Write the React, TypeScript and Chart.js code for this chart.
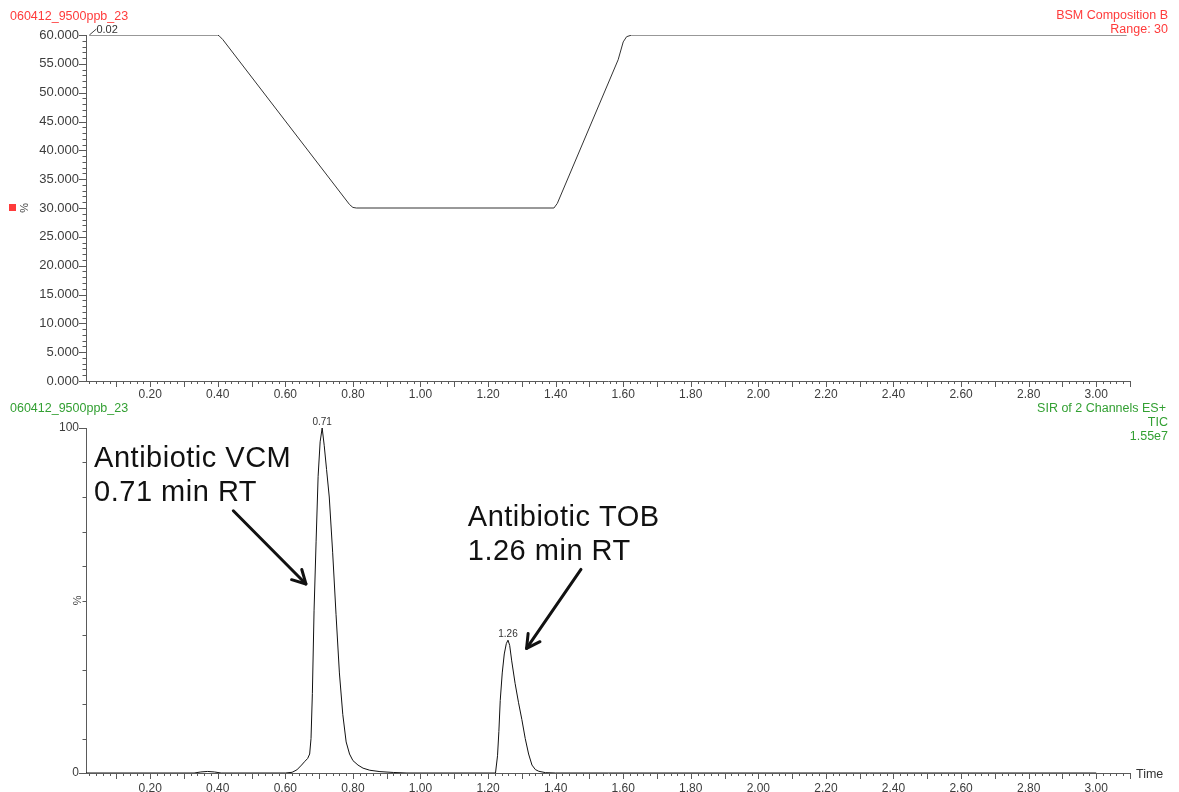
import React, { useEffect, useRef } from "react";
import { Chart, registerables } from "chart.js";

Chart.register(...registerables);

// ---------- data ----------
const compTime = [0.02, 0.40, 0.405, 0.415, 0.79, 0.80, 0.81, 1.395, 1.405, 1.585, 1.60, 1.61, 1.625, 3.09];
const compValue = [60, 60, 59.8, 59.2, 30.6, 30.1, 30, 30, 30.8, 55.7, 58.8, 59.7, 60, 60];

const ticTime = [0.01, 0.33, 0.35, 0.37, 0.39, 0.41, 0.60, 0.62, 0.634, 0.648, 0.658, 0.666, 0.672, 0.676, 0.68, 0.685,
  0.691, 0.697, 0.703, 0.709, 0.715, 0.722, 0.73, 0.74, 0.75, 0.76, 0.77, 0.78, 0.79, 0.80, 0.815, 0.83, 0.85, 0.88, 0.92, 0.96,
  1.222, 1.228, 1.232, 1.236, 1.242, 1.248, 1.254, 1.259, 1.264, 1.27, 1.28, 1.29, 1.30, 1.31, 1.32, 1.33, 1.34, 1.35, 1.37, 1.40, 3.00];
const ticValue = [0, 0, 0.3, 0.45, 0.3, 0, 0, 0.2, 0.9, 2.3, 3.4, 4.2, 5.5, 10, 23, 47,
  67, 86, 96, 100, 95, 88, 80, 64, 46, 29, 17, 9, 5.5, 3.6, 2.3, 1.4, 0.8, 0.4, 0.15, 0,
  0, 5, 12, 21, 29, 34.5, 37.5, 38.5, 37, 32.5, 26, 20.5, 15.5, 10, 5.5, 2.3, 1.0, 0.5, 0.1, 0, 0];

const xTickLabels = [0.2, 0.4, 0.6, 0.8, 1.0, 1.2, 1.4, 1.6, 1.8, 2.0, 2.2, 2.4, 2.6, 2.8, 3.0];
const compYTicks = [0, 5, 10, 15, 20, 25, 30, 35, 40, 45, 50, 55, 60];
const ticYTicks = [0, 100];

const peakTimes = [0.709, 1.259];
const peakValues = [100, 38.5];
const peakTexts = ["0.71", "1.26"];

const noteLines = [["Antibiotic VCM", "0.71 min RT"], ["Antibiotic TOB", "1.26 min RT"]];
const noteAnchorX = [0.034, 1.14];
const noteAnchorY = [88.6, 71.6];
const arrowFromX = [0.446, 1.475];
const arrowFromY = [76.0, 59.0];
const arrowToX = [0.661, 1.314];
const arrowToY = [54.8, 36.1];

const X_MIN = 0.01;
const X_MAX = 3.1;

// ---------- styles ----------
const FONT = '"Liberation Sans", Arial, Helvetica, sans-serif';
const AXIS = "#5a5a5a";
const TICKTXT = "#3c3c3c";
const RED = "#ff3b3b";
const GREEN = "#33a033";

function drawXTicks(chart: any) {
  const { ctx, chartArea } = chart;
  const xs = chart.scales.x;
  ctx.save();
  ctx.strokeStyle = AXIS;
  ctx.lineWidth = 1;
  ctx.beginPath();
  for (let i = 1; i <= 155; i++) {
    const v = i * 0.02;
    if (v < X_MIN || v > X_MAX + 1e-9) continue;
    const px = Math.round(xs.getPixelForValue(v)) + 0.5;
    const major = i % 5 === 0;
    ctx.moveTo(px, chartArea.bottom);
    ctx.lineTo(px, chartArea.bottom + (major ? 6 : 3));
  }
  ctx.stroke();
  ctx.restore();
}

function drawYTicks(chart: any, max: number, minorStep: number, isMajor: (v: number) => boolean) {
  const { ctx, chartArea } = chart;
  const ys = chart.scales.y;
  ctx.save();
  ctx.strokeStyle = AXIS;
  ctx.lineWidth = 1;
  ctx.beginPath();
  for (let v = 0; v <= max + 1e-9; v += minorStep) {
    const py = Math.round(ys.getPixelForValue(v)) + 0.5;
    const len = isMajor(v) ? 7 : 3.5;
    ctx.moveTo(chartArea.left - len, py);
    ctx.lineTo(chartArea.left, py);
  }
  ctx.stroke();
  ctx.restore();
}

function drawArrow(ctx: CanvasRenderingContext2D, x1: number, y1: number, x2: number, y2: number) {
  const ang = Math.atan2(y2 - y1, x2 - x1);
  const head = 15;
  const spread = 0.5;
  ctx.beginPath();
  ctx.moveTo(x1, y1);
  ctx.lineTo(x2, y2);
  ctx.stroke();
  ctx.beginPath();
  ctx.moveTo(x2 - head * Math.cos(ang - spread), y2 - head * Math.sin(ang - spread));
  ctx.lineTo(x2, y2);
  ctx.lineTo(x2 - head * Math.cos(ang + spread), y2 - head * Math.sin(ang + spread));
  ctx.stroke();
}

const topDeco = {
  id: "topDeco",
  afterDraw(chart: any) {
    const { ctx } = chart;
    drawXTicks(chart);
    drawYTicks(chart, 60, 1, (v) => Math.abs(v % 5) < 1e-6 || Math.abs((v % 5) - 5) < 1e-6);
    ctx.save();
    // headers
    ctx.font = `12.5px ${FONT}`;
    ctx.fillStyle = RED;
    ctx.textBaseline = "alphabetic";
    ctx.textAlign = "left";
    ctx.fillText("060412_9500ppb_23", 10, 20);
    ctx.textAlign = "right";
    ctx.fillText("BSM Composition B", 1168, 19);
    ctx.fillText("Range: 30", 1168, 33);
    // y title
    ctx.fillRect(9, 204, 7, 7);
    ctx.save();
    ctx.translate(23, 208);
    ctx.rotate(Math.PI / 2);
    ctx.font = `11px ${FONT}`;
    ctx.fillStyle = "#444";
    ctx.textAlign = "center";
    ctx.textBaseline = "middle";
    ctx.fillText("%", 0, 0);
    ctx.restore();
    // start label
    const xs = chart.scales.x;
    const ys = chart.scales.y;
    const sx = xs.getPixelForValue(compTime[0]);
    const sy = ys.getPixelForValue(compValue[0]);
    ctx.strokeStyle = "#444";
    ctx.lineWidth = 1;
    ctx.beginPath();
    ctx.moveTo(sx, sy);
    ctx.lineTo(sx + 7, sy - 6);
    ctx.stroke();
    ctx.font = `11px ${FONT}`;
    ctx.fillStyle = "#333";
    ctx.textAlign = "left";
    ctx.fillText(compTime[0].toFixed(2), sx + 7, sy - 2);
    ctx.restore();
  },
};

const bottomDeco = {
  id: "bottomDeco",
  afterDraw(chart: any) {
    const { ctx, chartArea } = chart;
    const xs = chart.scales.x;
    const ys = chart.scales.y;
    drawXTicks(chart);
    drawYTicks(chart, 100, 10, (v) => v < 1e-6 || v > 100 - 1e-6);
    ctx.save();
    ctx.font = `12.5px ${FONT}`;
    ctx.fillStyle = GREEN;
    ctx.textAlign = "left";
    ctx.textBaseline = "alphabetic";
    ctx.fillText("060412_9500ppb_23", 10, 12);
    ctx.textAlign = "right";
    ctx.fillText("SIR of 2 Channels ES+", 1166, 12);
    ctx.fillText("TIC", 1168, 26);
    ctx.fillText("1.55e7", 1168, 40);
    // Time label
    ctx.fillStyle = "#333";
    ctx.textAlign = "left";
    ctx.fillText("Time", chartArea.right + 6, chartArea.bottom + 5);
    // y title
    ctx.save();
    ctx.translate(76, (chartArea.top + chartArea.bottom) / 2);
    ctx.rotate(Math.PI / 2);
    ctx.font = `11px ${FONT}`;
    ctx.fillStyle = "#444";
    ctx.textAlign = "center";
    ctx.textBaseline = "middle";
    ctx.fillText("%", 0, 0);
    ctx.restore();
    // peak labels
    ctx.font = `10px ${FONT}`;
    ctx.fillStyle = "#333";
    ctx.textAlign = "center";
    for (let i = 0; i < peakTimes.length; i++) {
      ctx.fillText(peakTexts[i], xs.getPixelForValue(peakTimes[i]), ys.getPixelForValue(peakValues[i]) - 3);
    }
    // annotations
    ctx.fillStyle = "#111";
    ctx.textAlign = "left";
    ctx.font = `29px ${FONT}`;
    try { (ctx as any).letterSpacing = "0.5px"; } catch (e) {}
    for (let i = 0; i < noteLines.length; i++) {
      const tx = xs.getPixelForValue(noteAnchorX[i]);
      const ty = ys.getPixelForValue(noteAnchorY[i]);
      noteLines[i].forEach((line, j) => ctx.fillText(line, tx, ty + j * 34));
    }
    try { (ctx as any).letterSpacing = "0px"; } catch (e) {}
    ctx.strokeStyle = "#111";
    ctx.lineWidth = 3;
    ctx.lineCap = "round";
    ctx.lineJoin = "round";
    for (let i = 0; i < arrowFromX.length; i++) {
      drawArrow(ctx,
        xs.getPixelForValue(arrowFromX[i]), ys.getPixelForValue(arrowFromY[i]),
        xs.getPixelForValue(arrowToX[i]), ys.getPixelForValue(arrowToY[i]));
    }
    ctx.restore();
  },
};

function xScale(pad: number) {
  return {
    type: "linear" as const,
    min: X_MIN,
    max: X_MAX,
    afterBuildTicks: (s: any) => { s.ticks = xTickLabels.map((v) => ({ value: v })); },
    afterFit: (s: any) => { s.height = 19; },
    ticks: {
      autoSkip: false,
      maxRotation: 0,
      padding: pad,
      color: TICKTXT,
      font: { family: FONT, size: 12 },
      callback: (v: any) => Number(v).toFixed(2),
    },
    grid: { display: false, drawTicks: false },
    border: { display: true, color: AXIS, width: 1 },
  };
}

export default function App() {
  const topRef = useRef<HTMLCanvasElement>(null);
  const botRef = useRef<HTMLCanvasElement>(null);

  useEffect(() => {
    const top = new Chart(topRef.current as HTMLCanvasElement, {
      type: "line",
      data: {
        datasets: [{
          data: compTime.map((t, i) => ({ x: t, y: compValue[i] })),
          borderColor: "#333",
          borderWidth: 1,
          pointRadius: 0,
          tension: 0,
          fill: false,
        }],
      },
      options: {
        responsive: false,
        animation: false,
        devicePixelRatio: 1,
        layout: { padding: { top: 35, right: 49, left: 0, bottom: 0 } },
        plugins: { legend: { display: false }, tooltip: { enabled: false } },
        scales: {
          x: xScale(6),
          y: {
            type: "linear",
            min: 0,
            max: 60,
            afterBuildTicks: (s: any) => { s.ticks = compYTicks.map((v) => ({ value: v })); },
            afterFit: (s: any) => { s.width = 86; },
            ticks: {
              autoSkip: false,
              padding: 7,
              color: TICKTXT,
              font: { family: FONT, size: 13 },
              callback: (v: any) => Number(v).toFixed(3),
            },
            grid: { display: false, drawTicks: false },
            border: { display: true, color: AXIS, width: 1 },
          },
        },
      } as any,
      plugins: [topDeco],
    });

    const bottom = new Chart(botRef.current as HTMLCanvasElement, {
      type: "line",
      data: {
        datasets: [{
          data: ticTime.map((t, i) => ({ x: t, y: ticValue[i] })),
          borderColor: "#111",
          borderWidth: 1,
          pointRadius: 0,
          tension: 0,
          fill: false,
        }],
      },
      options: {
        responsive: false,
        animation: false,
        devicePixelRatio: 1,
        layout: { padding: { top: 28, right: 49, left: 0, bottom: 0 } },
        plugins: { legend: { display: false }, tooltip: { enabled: false } },
        scales: {
          x: xScale(8),
          y: {
            type: "linear",
            min: 0,
            max: 100,
            afterBuildTicks: (s: any) => { s.ticks = ticYTicks.map((v) => ({ value: v })); },
            afterFit: (s: any) => { s.width = 86; },
            ticks: {
              autoSkip: false,
              padding: 7,
              color: TICKTXT,
              font: { family: FONT, size: 12 },
              callback: (v: any) => String(v),
            },
            grid: { display: false, drawTicks: false },
            border: { display: true, color: AXIS, width: 1 },
          },
        },
      } as any,
      plugins: [bottomDeco],
    });

    return () => {
      top.destroy();
      bottom.destroy();
    };
  }, []);

  return (
    <div style={{ position: "absolute", left: 0, top: 0, width: 1179, height: 792, background: "#fff" }}>
      <canvas ref={topRef} width={1179} height={400} style={{ position: "absolute", left: 0, top: 0, width: 1179, height: 400 }} />
      <canvas ref={botRef} width={1179} height={392} style={{ position: "absolute", left: 0, top: 400, width: 1179, height: 392 }} />
    </div>
  );
}
